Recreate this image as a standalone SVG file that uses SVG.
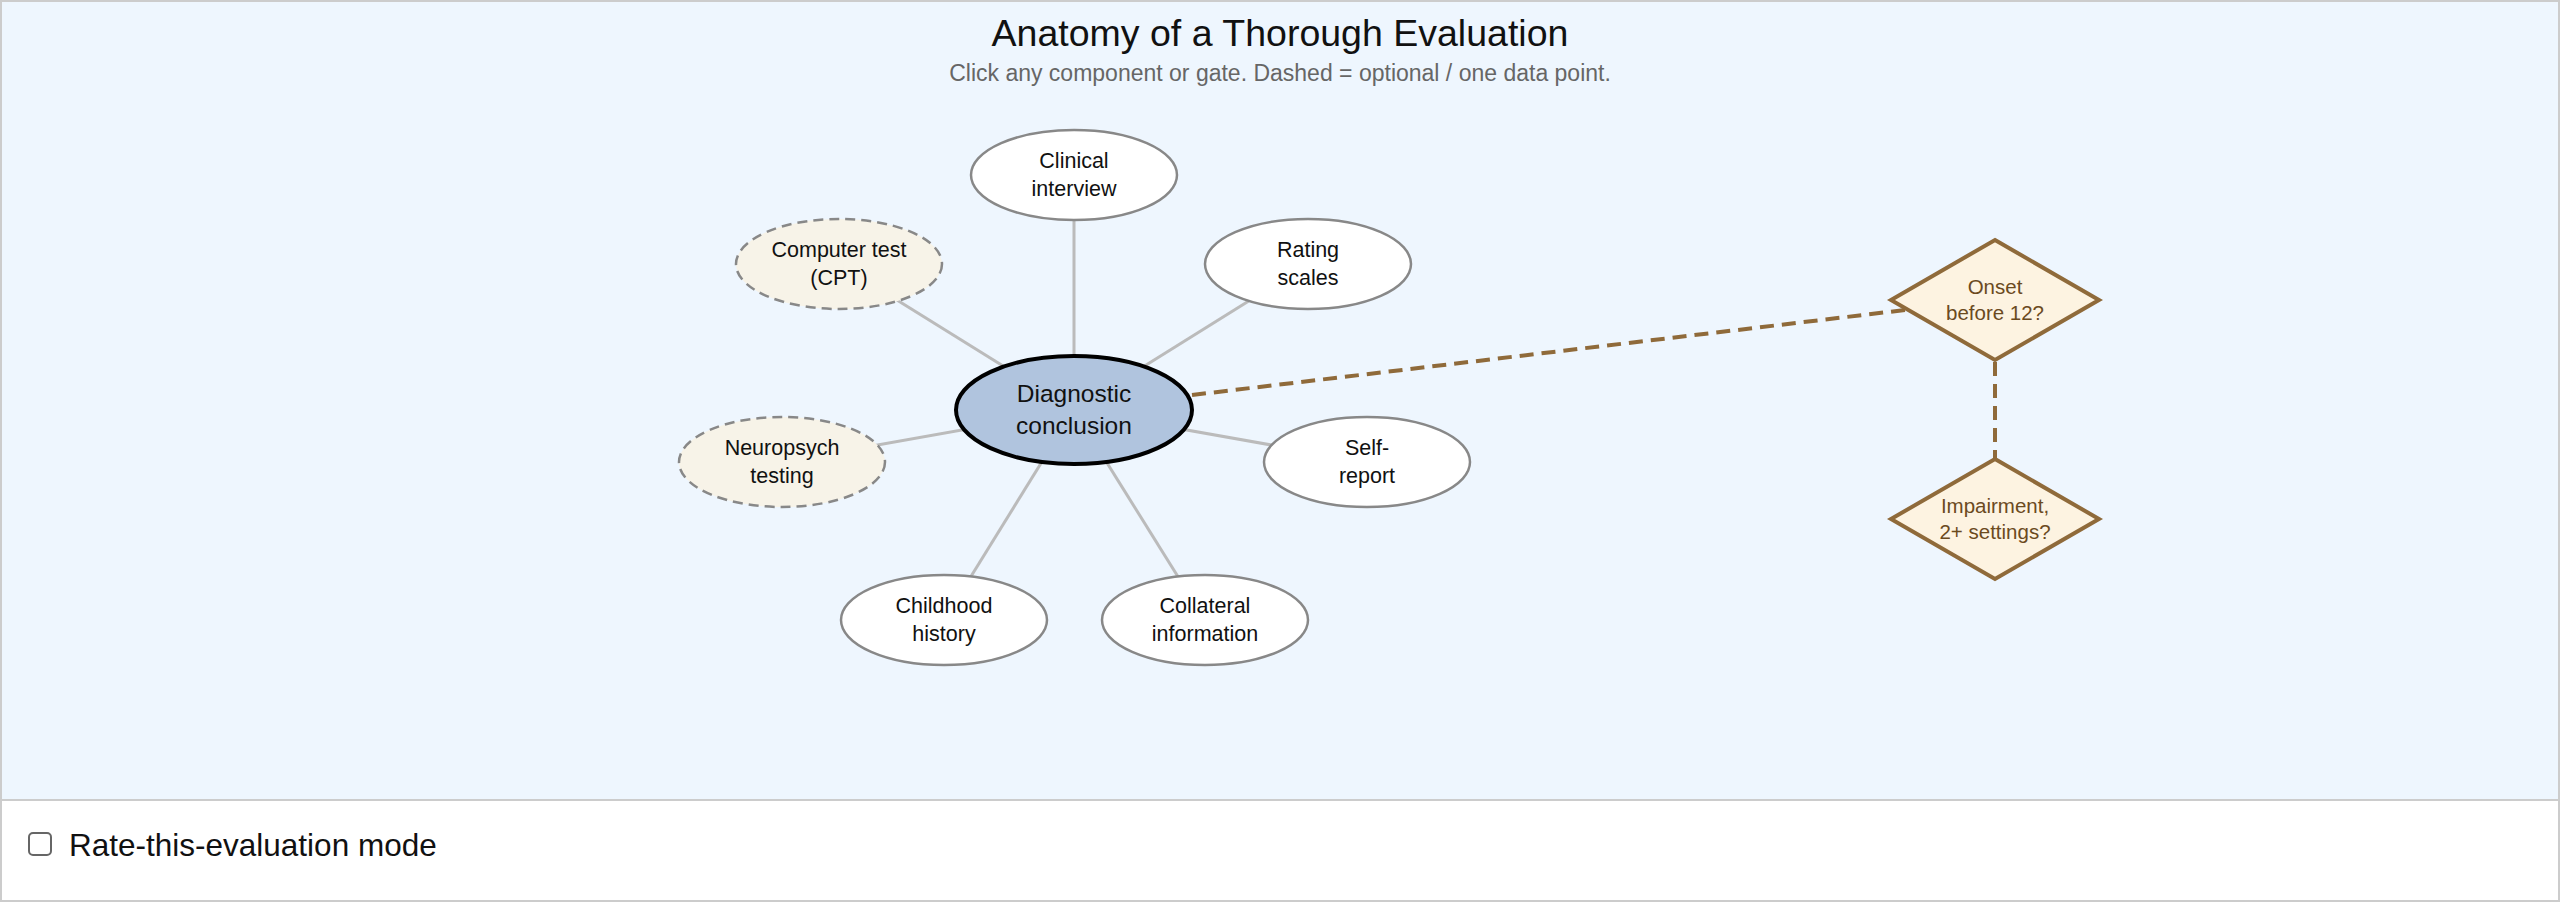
<svg xmlns="http://www.w3.org/2000/svg" width="2560" height="904" viewBox="0 0 2560 904">
<style>
text{font-family:"Liberation Sans",Arial,sans-serif;text-anchor:middle}
.n{fill:#fff;stroke:#888;stroke-width:2.5}
.opt{fill:#f7f3e8;stroke:#888;stroke-width:2.5;stroke-dasharray:10 6}
.t{font-size:21.5px;fill:#111}
.spoke{stroke:#bbb;stroke-width:3}
.gate{fill:#fdf3e1;stroke:#8f6a3a;stroke-width:4}
.gt{font-size:20.5px;fill:#6b4a1e}
.gl{stroke:#8f6a3a;stroke-width:4;stroke-dasharray:14 8;fill:none}
</style>
<rect x="0" y="0" width="2560" height="904" fill="#fff"/>
<rect x="1" y="1" width="2558" height="799" fill="#eef6fe" stroke="#ccc" stroke-width="2"/>
<rect x="1" y="800" width="2558" height="101" fill="#fff" stroke="#ccc" stroke-width="2"/>
<text x="1280" y="46" font-size="37.5" fill="#111">Anatomy of a Thorough Evaluation</text>
<text x="1280" y="81" font-size="23" fill="#666">Click any component or gate. Dashed = optional / one data point.</text>
<g id="connectors">
<line class="spoke" x1="1074" y1="410" x2="1074" y2="175"/>
<line class="spoke" x1="1074" y1="410" x2="1308" y2="264"/>
<line class="spoke" x1="1074" y1="410" x2="839" y2="264"/>
<line class="spoke" x1="1074" y1="410" x2="782" y2="462"/>
<line class="spoke" x1="1074" y1="410" x2="1367" y2="462"/>
<line class="spoke" x1="1074" y1="410" x2="944" y2="620"/>
<line class="spoke" x1="1074" y1="410" x2="1205" y2="620"/>
<line class="gl" x1="1192" y1="395" x2="1905" y2="310"/>
<line class="gl" x1="1995" y1="362" x2="1995" y2="459"/>
</g>
<g id="clinical"><ellipse class="n" cx="1074" cy="175" rx="103" ry="45"/><text class="t" x="1074" y="168">Clinical</text><text class="t" x="1074" y="196">interview</text></g>
<g id="rating"><ellipse class="n" cx="1308" cy="264" rx="103" ry="45"/><text class="t" x="1308" y="257">Rating</text><text class="t" x="1308" y="285">scales</text></g>
<g id="cpt"><ellipse class="opt" cx="839" cy="264" rx="103" ry="45"/><text class="t" x="839" y="257">Computer test</text><text class="t" x="839" y="285">(CPT)</text></g>
<g id="neuro"><ellipse class="opt" cx="782" cy="462" rx="103" ry="45"/><text class="t" x="782" y="455">Neuropsych</text><text class="t" x="782" y="483">testing</text></g>
<g id="self"><ellipse class="n" cx="1367" cy="462" rx="103" ry="45"/><text class="t" x="1367" y="455">Self-</text><text class="t" x="1367" y="483">report</text></g>
<g id="childhood"><ellipse class="n" cx="944" cy="620" rx="103" ry="45"/><text class="t" x="944" y="613">Childhood</text><text class="t" x="944" y="641">history</text></g>
<g id="collateral"><ellipse class="n" cx="1205" cy="620" rx="103" ry="45"/><text class="t" x="1205" y="613">Collateral</text><text class="t" x="1205" y="641">information</text></g>
<g id="center"><ellipse cx="1074" cy="410" rx="118" ry="54" fill="#b0c4de" stroke="#000" stroke-width="4"/><text x="1074" y="402" font-size="24.5" fill="#111">Diagnostic</text><text x="1074" y="434" font-size="24.5" fill="#111">conclusion</text></g>
<g id="onset"><polygon class="gate" points="1995,240 2099,300 1995,360 1891,300"/><text class="gt" x="1995" y="294">Onset</text><text class="gt" x="1995" y="320">before 12?</text></g>
<g id="impair"><polygon class="gate" points="1995,459 2099,519 1995,579 1891,519"/><text class="gt" x="1995" y="513">Impairment,</text><text class="gt" x="1995" y="539">2+ settings?</text></g>
<g id="mode"><rect x="29" y="833" width="22" height="22" rx="4" fill="#fff" stroke="#666" stroke-width="2"/><text x="69" y="856" font-size="31.5" fill="#111" style="text-anchor:start">Rate-this-evaluation mode</text></g>
</svg>
